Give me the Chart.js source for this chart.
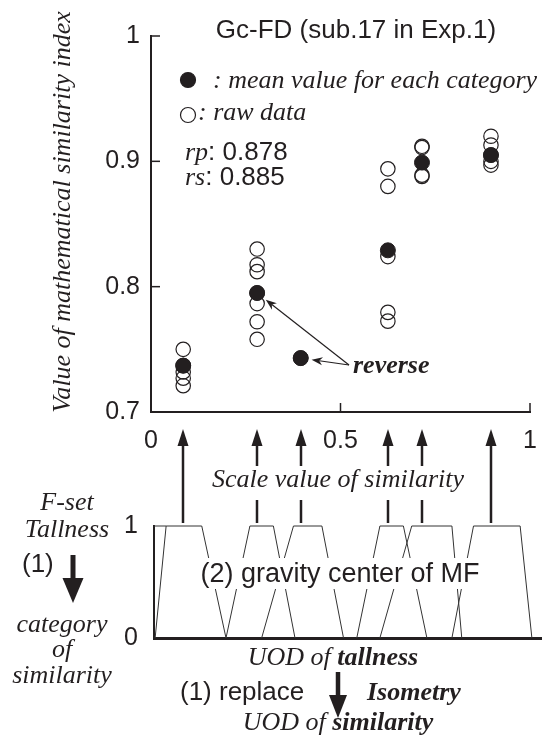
<!DOCTYPE html>
<html>
<head>
<meta charset="utf-8">
<script src="https://cdn.jsdelivr.net/npm/chart.js@4.4.1/dist/chart.umd.min.js"></script>
<style>
  html, body { margin: 0; padding: 0; background: #fff; }
  #wrap { position: relative; width: 542px; height: 745px; }
  #wrap canvas { position: absolute; left: 0; top: 0; }
</style>
</head>
<body>
<div id="wrap">
  <canvas id="scatterChart" width="542" height="745"></canvas>
  <canvas id="mfChart" width="542" height="745"></canvas>
</div>
<script>
// scale value of similarity for each category, and the mean index per category
const catX = [0.085, 0.28, 0.395, 0.625, 0.715, 0.897];
const meanY = [0.737, 0.795, 0.743, 0.829, 0.899, 0.905];

// raw index values per category
const raw1 = [0.750, 0.737, 0.732, 0.727, 0.721];
const raw2 = [0.830, 0.8175, 0.812, 0.795, 0.7865, 0.772, 0.758];
const raw3 = [0.743];
const raw4 = [0.894, 0.880, 0.824, 0.7795, 0.7725];
const raw5 = [0.912, 0.911, 0.889, 0.888];
const raw6 = [0.920, 0.913, 0.905, 0.900, 0.897];
const rawData = [raw1, raw2, raw3, raw4, raw5, raw6];

const xTicks = [0, 0.5, 1];
const yTicks = [0.7, 0.8, 0.9, 1];

const corrNames = ['rp', 'rs'];
const corrValues = [0.878, 0.885];
const reversedCats = [1, 2];

// membership functions (trapezoids) on the UOD of tallness
const mfBottomL = [0.003, 0.19, 0.284, 0.535, 0.596, 0.786];
const mfTopL = [0.032, 0.253, 0.368, 0.596, 0.68, 0.843];
const mfTopR = [0.126, 0.315, 0.443, 0.658, 0.786, 0.966];
const mfBottomR = [0.19, 0.372, 0.5, 0.72, 0.812, 0.997];
const mfTicks = [0, 1];

const INK = '#231f20';
const SANS = '"Liberation Sans", Arial, sans-serif';
const SERIF = '"Liberation Serif", "Times New Roman", serif';

function seg(ctx, x1, y1, x2, y2) {
    ctx.beginPath();
    ctx.moveTo(x1, y1);
    ctx.lineTo(x2, y2);
    ctx.stroke();
}

function text(ctx, s, x, y, font, align) {
    ctx.font = font;
    ctx.textAlign = align || 'left';
    ctx.textBaseline = 'alphabetic';
    ctx.fillText(s, x, y);
}

// several font runs on one line
function runs(ctx, parts, x, y, align) {
    let w = 0;
    parts.forEach(p => { ctx.font = p[1]; w += ctx.measureText(p[0]).width; });
    let cx = align === 'center' ? x - w / 2 : x;
    ctx.textAlign = 'left';
    ctx.textBaseline = 'alphabetic';
    parts.forEach(p => {
        ctx.font = p[1];
        ctx.fillText(p[0], cx, y);
        cx += ctx.measureText(p[0]).width;
    });
}

function dot(ctx, x, y, r, filled) {
    ctx.beginPath();
    ctx.arc(x, y, r, 0, Math.PI * 2);
    if (filled) ctx.fill();
    ctx.lineWidth = 1.2;
    ctx.stroke();
}

function head(ctx, x1, y1, x2, y2, len, half, notch) {
    const a = Math.atan2(y2 - y1, x2 - x1);
    const bx = x2 - Math.cos(a) * len, by = y2 - Math.sin(a) * len;
    ctx.beginPath();
    ctx.moveTo(x2, y2);
    ctx.lineTo(bx - Math.sin(a) * half, by + Math.cos(a) * half);
    ctx.lineTo(bx + Math.cos(a) * len * (notch || 0), by + Math.sin(a) * len * (notch || 0));
    ctx.lineTo(bx + Math.sin(a) * half, by - Math.cos(a) * half);
    ctx.closePath();
    ctx.fill();
}

function arrow(ctx, x1, y1, x2, y2, lw, len, half, notch) {
    const a = Math.atan2(y2 - y1, x2 - x1);
    ctx.lineWidth = lw;
    seg(ctx, x1, y1, x2 - Math.cos(a) * len * 0.7, y2 - Math.sin(a) * len * 0.7);
    head(ctx, x1, y1, x2, y2, len, half, notch);
}

const upperMarks = {
    id: 'upperMarks',
    afterDraw(chart) {
        const ctx = chart.ctx;
        const xs = chart.scales.x, ys = chart.scales.y;
        const area = chart.chartArea;
        ctx.save();
        ctx.fillStyle = INK;
        ctx.strokeStyle = INK;

        // tick marks pointing into the plot
        ctx.lineWidth = 1.5;
        yTicks.slice(1).forEach(v => {
            const py = ys.getPixelForValue(v);
            seg(ctx, area.left, py, area.left + 9, py);
        });
        xTicks.slice(1).forEach(v => {
            const px = xs.getPixelForValue(v);
            seg(ctx, px, area.bottom, px, area.bottom - 9);
        });

        text(ctx, 'Gc-FD (sub.17 in Exp.1)', 356, 38, '26px ' + SANS, 'center');

        dot(ctx, 188, 80, 7.5, true);
        text(ctx, ': mean value for each category', 213, 88, 'italic 26px ' + SERIF);
        dot(ctx, 188, 115, 7.5, false);
        text(ctx, ': raw data', 198, 120, 'italic 26px ' + SERIF);

        corrNames.forEach((n, i) => {
            runs(ctx, [[n, 'italic 26px ' + SERIF], [': ' + corrValues[i].toFixed(3), '26px ' + SANS]], 185, 160 + i * 25);
        });

        // axis titles
        ctx.save();
        ctx.translate(63, 212);
        ctx.rotate(-Math.PI / 2);
        ctx.font = 'italic 26px ' + SERIF;
        ctx.textAlign = 'center';
        ctx.textBaseline = 'middle';
        ctx.fillText('Value of mathematical similarity index', 0, 0);
        ctx.restore();
        text(ctx, 'Scale value of similarity', 338, 487, 'italic 26px ' + SERIF, 'center');

        // reversed order note
        text(ctx, 'reverse', 353, 373, 'bold italic 26px ' + SERIF);
        const ox = 349, oy = 365;
        reversedCats.forEach(i => {
            const px = xs.getPixelForValue(catX[i]);
            const py = ys.getPixelForValue(meanY[i]);
            const a = Math.atan2(oy - py, ox - px);
            const tx = px + Math.cos(a) * 11, ty = py + Math.sin(a) * 11;
            arrow(ctx, ox, oy, tx, ty, 1.2, 11, 4, 0.3);
        });

        // arrows from the gravity centers up to the scale axis
        catX.forEach((v, i) => {
            const px = Math.round(xs.getPixelForValue(v));
            const broken = i > 0 && i < catX.length - 1;
            ctx.lineWidth = 2.5;
            if (broken) {
                seg(ctx, px, 523, px, 500);
                seg(ctx, px, 466, px, 440);
            } else {
                seg(ctx, px, 523, px, 440);
            }
            head(ctx, px, 523, px, 429, 17, 5.5, 0);
        });

        ctx.restore();
    }
};

const lowerMarks = {
    id: 'lowerMarks',
    afterDraw(chart) {
        const ctx = chart.ctx;
        ctx.save();
        ctx.fillStyle = INK;
        ctx.strokeStyle = INK;

        const label = '(2) gravity center of MF';
        ctx.font = '27px ' + SANS;
        const w = ctx.measureText(label).width;
        ctx.fillStyle = '#fff';
        ctx.fillRect(340 - w / 2 - 3, 558, w + 6, 31);
        ctx.fillStyle = INK;
        text(ctx, label, 340, 582, '27px ' + SANS, 'center');

        text(ctx, 'F-set', 67, 510, 'italic 26px ' + SERIF, 'center');
        text(ctx, 'Tallness', 67, 537, 'italic 26px ' + SERIF, 'center');
        text(ctx, '(1)', 22, 572, '26px ' + SANS);
        arrow(ctx, 73, 555, 73, 603, 5, 25, 10.5, 0);
        text(ctx, 'category', 62, 632, 'italic 26px ' + SERIF, 'center');
        text(ctx, 'of', 62, 657, 'italic 26px ' + SERIF, 'center');
        text(ctx, 'similarity', 62, 683, 'italic 26px ' + SERIF, 'center');

        runs(ctx, [['UOD of ', 'italic 26px ' + SERIF], ['tallness', 'bold italic 26px ' + SERIF]], 333, 665, 'center');
        text(ctx, '(1) replace', 180, 700, '26px ' + SANS);
        arrow(ctx, 338, 672, 338, 718, 4.5, 23, 9, 0);
        text(ctx, 'Isometry', 367, 700, 'bold italic 26px ' + SERIF);
        runs(ctx, [['UOD of ', 'italic 26px ' + SERIF], ['similarity', 'bold italic 26px ' + SERIF]], 338, 730, 'center');

        ctx.restore();
    }
};

const yTickFont = { family: SANS, size: 25 };
// a tall line box pushes the x labels down without a large tick padding
const xTickFont = { family: SANS, size: 25, lineHeight: 2 };

new Chart(document.getElementById('scatterChart'), {
    type: 'scatter',
    data: {
        datasets: [{
            label: 'mean',
            data: catX.map((x, i) => ({ x: x, y: meanY[i] })),
            pointRadius: 7.5,
            backgroundColor: INK,
            borderColor: INK,
            borderWidth: 1,
            order: 0
        }, {
            label: 'raw',
            data: rawData.flatMap((vals, i) => vals.map(y => ({ x: catX[i], y: y }))),
            pointRadius: 7.2,
            backgroundColor: 'rgba(0,0,0,0)',
            borderColor: INK,
            borderWidth: 1.2,
            order: 1
        }]
    },
    options: {
        responsive: false,
        animation: false,
        events: [],
        layout: { padding: { top: 36, right: 12, bottom: 0, left: 0 } },
        plugins: { legend: { display: false }, tooltip: { enabled: false } },
        scales: {
            x: {
                type: 'linear',
                min: 0,
                max: 1,
                afterBuildTicks: s => { s.ticks = xTicks.map(v => ({ value: v })); },
                afterFit: s => { s.height = 333; },
                grid: { display: false, drawTicks: false },
                border: { color: INK, width: 2 },
                ticks: { color: INK, font: xTickFont, padding: 4, maxRotation: 0, autoSkip: false, callback: v => String(v) }
            },
            y: {
                type: 'linear',
                min: 0.7,
                max: 1,
                afterBuildTicks: s => { s.ticks = yTicks.map(v => ({ value: v })); },
                afterFit: s => { s.width = 151; },
                grid: { display: false, drawTicks: false },
                border: { color: INK, width: 2 },
                ticks: { color: INK, font: yTickFont, padding: 11, autoSkip: false, callback: v => String(v) }
            }
        }
    },
    plugins: [upperMarks]
});

new Chart(document.getElementById('mfChart'), {
    type: 'scatter',
    data: {
        datasets: mfBottomL.map((bl, i) => ({
            label: 'MF' + (i + 1),
            data: [{ x: bl, y: 0 }, { x: mfTopL[i], y: 1 }, { x: mfTopR[i], y: 1 }, { x: mfBottomR[i], y: 0 }],
            showLine: true,
            pointRadius: 0,
            borderColor: '#333',
            borderWidth: 1,
            clip: false
        })).concat([{
            label: 'top edge',
            data: [{ x: 0, y: 1 }, { x: mfTopL[0], y: 1 }],
            showLine: true,
            pointRadius: 0,
            borderColor: '#333',
            borderWidth: 1,
            clip: false
        }])
    },
    options: {
        responsive: false,
        animation: false,
        events: [],
        layout: { padding: { top: 526, right: 0, bottom: 0, left: 0 } },
        plugins: { legend: { display: false }, tooltip: { enabled: false } },
        scales: {
            x: {
                type: 'linear',
                min: 0,
                max: 1.0237,
                afterFit: s => { s.height = 107; },
                grid: { display: false, drawTicks: false },
                border: { color: INK, width: 3 },
                ticks: { display: false }
            },
            y: {
                type: 'linear',
                min: 0,
                max: 1,
                afterBuildTicks: s => { s.ticks = mfTicks.map(v => ({ value: v })); },
                afterFit: s => { s.width = 154; },
                grid: { display: false, drawTicks: false },
                border: { color: INK, width: 2 },
                ticks: { color: INK, font: yTickFont, padding: 16, autoSkip: false, callback: v => String(v) }
            }
        }
    },
    plugins: [lowerMarks]
});
</script>
</body>
</html>
